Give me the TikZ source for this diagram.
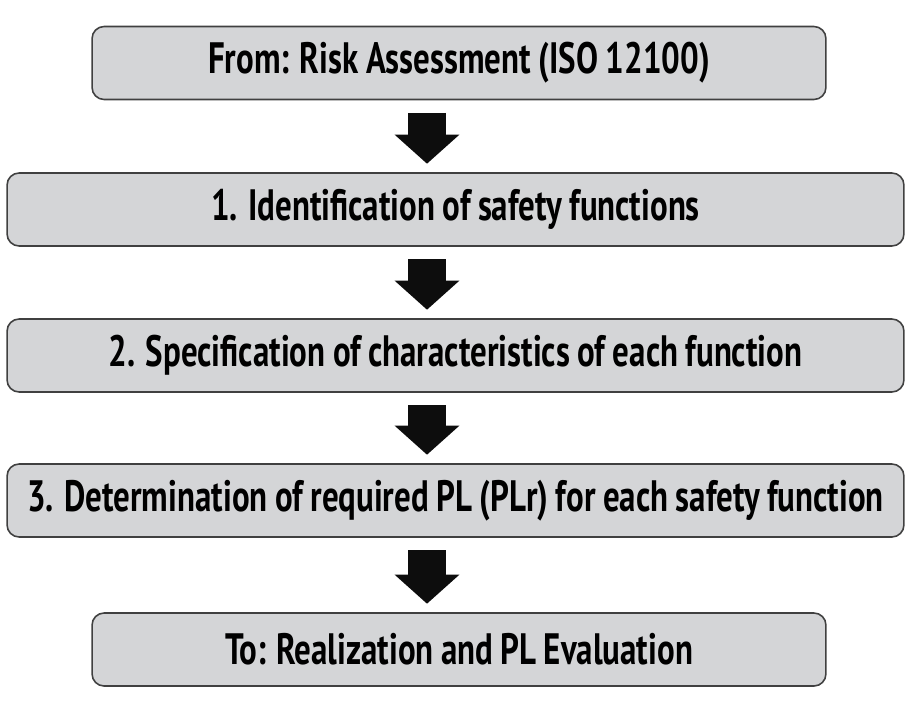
\documentclass[tikz,border=0pt]{standalone}
\usepackage{fontspec}
\newfontfamily\stagefont{PT Sans}[FakeStretch=0.75, WordSpace=0.9]
\usepackage{color}
\usepackage{tikz}
\usetikzlibrary{shapes,arrows.meta,calc}
\definecolor{boxgray}{RGB}{212,213,215}
\definecolor{boxline}{RGB}{64,64,64}
\tikzstyle{stage} = [draw=boxline, fill=boxgray, line width=0.9pt, rounded corners=0.24cm, minimum height=1.46cm, font=\stagefont\bfseries\fontsize{25}{29}\selectfont]
\tikzstyle{arrow} = [draw=black!95, line width=0.76cm, -{Triangle[length=0.58cm, width=1.26cm]}, shorten <=0.25cm, shorten >=0.17cm]

\begin{document}
\begin{tikzpicture}[x=0.02cm, y=-0.02cm]
      \useasboundingbox (0,0) rectangle (922,701);

      \node (from) at (459,63) [stage, minimum width=14.68cm] {From: Risk Assessment (ISO 12100)};
      \node (ident) at (455.5,209.5) [stage, minimum width=17.94cm] {1. Identification of safety functions};
      \node (spec) at (455.5,355.5) [stage, minimum width=17.94cm] {2. Specification of characteristics of each function};
      \node (plr) at (455.5,500.5) [stage, minimum width=17.94cm] {3. Determination of required PL (PLr) for each safety function};
      \node (to) at (459,649.5) [stage, minimum width=14.68cm] {To: Realization and PL Evaluation};

      \coordinate (col) at (427,0);
      \foreach \a/\b in {from/ident, ident/spec, spec/plr, plr/to}
        \path[arrow] (\a.south -| col) -- (\b.north -| col);
    \end{tikzpicture}
\end{document}
